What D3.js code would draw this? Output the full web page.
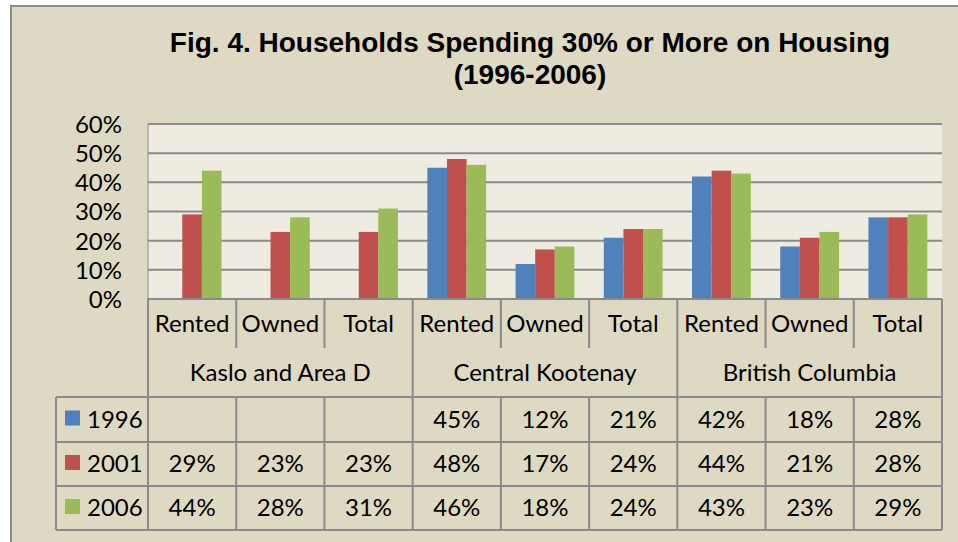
<!DOCTYPE html>
<html>
<head>
<meta charset="utf-8">
<script src="https://cdn.jsdelivr.net/npm/d3@7"></script>
<style>
  body { margin: 0; background: #fff; }
  text { font-family: Lato, "Open Sans", sans-serif; fill: #000; }
</style>
</head>
<body>
<svg width="958" height="542"></svg>
<script>
var regions = ["Kaslo and Area D", "Central Kootenay", "British Columbia"];
var tenures = ["Rented", "Owned", "Total"];
var years = ["1996", "2001", "2006"];
var yTicks = [0, 0.1, 0.2, 0.3, 0.4, 0.5, 0.6];

// one value per column: Kaslo R/O/T, Central Kootenay R/O/T, BC R/O/T
var v1996 = [null, null, null, 0.45, 0.12, 0.21, 0.42, 0.18, 0.28];
var v2001 = [0.29, 0.23, 0.23, 0.48, 0.17, 0.24, 0.44, 0.21, 0.28];
var v2006 = [0.44, 0.28, 0.31, 0.46, 0.18, 0.24, 0.43, 0.23, 0.29];

var colors = ["#4F81BD", "#C0504D", "#9BBB59"];
var lineColor = "#8a8a8a";

var series = [v1996, v2001, v2006].map(function(vals, i) {
  return {year: years[i], color: colors[i], values: vals};
});

var columns = [];
regions.forEach(function(r) {
  tenures.forEach(function(t) { columns.push(r + "|" + t); });
});

var svg = d3.select("svg");

// background and outer border (only top/left visible in the crop)
svg.append("rect").attr("x", 11).attr("y", 6).attr("width", 960).attr("height", 560)
    .attr("fill", "#DDD9C3").attr("stroke", "#8c8c8c").attr("stroke-width", 2);

// title
var title = svg.append("text")
    .attr("text-anchor", "middle")
    .style("font-family", "'Liberation Sans', Arial, sans-serif")
    .style("font-weight", "bold")
    .style("font-size", "28px");
title.append("tspan").attr("x", 530).attr("y", 52).text("Fig. 4. Households Spending 30% or More on Housing");
title.append("tspan").attr("x", 530).attr("y", 84).text("(1996-2006)");

var plotL = 148, plotR = 942, plotT = 124, plotB = 299;

var x0 = d3.scaleBand().domain(columns).range([plotL, plotR]);
var x1 = d3.scaleBand().domain(years).range([0, x0.bandwidth()]).paddingOuter(0.75);
var y = d3.scaleLinear().domain([0, 0.6]).range([plotB, plotT]);

// plot area
svg.append("rect").attr("x", plotL).attr("y", plotT).attr("width", plotR - plotL).attr("height", plotB - plotT)
    .attr("fill", "#EEECE1");

svg.append("g").selectAll("line").data(yTicks).join("line")
    .attr("x1", plotL).attr("x2", plotR)
    .attr("y1", function(d) { return y(d); }).attr("y2", function(d) { return y(d); })
    .attr("stroke", lineColor).attr("stroke-width", 2);

svg.append("line").attr("x1", plotL).attr("x2", plotL).attr("y1", plotT).attr("y2", plotB)
    .attr("stroke", lineColor).attr("stroke-width", 1);

// y axis labels
var yAxis = svg.append("g")
    .attr("transform", "translate(" + plotL + ",0)")
    .call(d3.axisLeft(y).tickValues(yTicks).tickFormat(d3.format(".0%")).tickSize(0).tickPadding(26));
yAxis.select(".domain").remove();
yAxis.selectAll("text").style("font-family", "Lato, sans-serif").style("font-size", "24px")
    .attr("dy", "0.35em").attr("fill", "#000");

// bars
series.forEach(function(s) {
  svg.append("g").selectAll("rect")
    .data(s.values.map(function(v, i) { return {col: columns[i], v: v}; }).filter(function(d) { return d.v != null; }))
    .join("rect")
      .attr("x", function(d) { return x0(d.col) + x1(s.year); })
      .attr("width", x1.bandwidth())
      .attr("y", function(d) { return y(d.v); })
      .attr("height", function(d) { return y(0) - y(d.v); })
      .attr("fill", s.color);
});

// category table
var row1 = 348, row2 = 397;
var rowH = [397, 442, 486, 530];
var tableLeft = 56;
var fontSize = "24px";

var cat = svg.append("g");
columns.forEach(function(c, i) {
  var xl = x0(c);
  var isGroupEdge = i % 3 === 0;
  cat.append("line").attr("x1", xl).attr("x2", xl).attr("y1", plotB).attr("y2", isGroupEdge ? row2 : row1)
      .attr("stroke", lineColor).attr("stroke-width", 2);
  cat.append("text").attr("x", xl + x0.bandwidth() / 2).attr("y", (plotB + row1) / 2 + 8)
      .attr("text-anchor", "middle").style("font-size", fontSize).text(c.split("|")[1]);
});
cat.append("line").attr("x1", plotR).attr("x2", plotR).attr("y1", plotB).attr("y2", row2)
    .attr("stroke", lineColor).attr("stroke-width", 2);
regions.forEach(function(r, i) {
  var xl = x0(columns[i * 3]);
  cat.append("text").attr("x", xl + x0.bandwidth() * 1.5).attr("y", (row1 + row2) / 2 + 8)
      .attr("text-anchor", "middle").style("font-size", fontSize).text(r);
});
svg.append("line").attr("x1", plotL).attr("x2", plotR).attr("y1", plotB).attr("y2", plotB)
    .attr("stroke", lineColor).attr("stroke-width", 2);

// data table
var dt = svg.append("g");
rowH.forEach(function(yy) {
  dt.append("line").attr("x1", tableLeft).attr("x2", plotR).attr("y1", yy).attr("y2", yy)
      .attr("stroke", lineColor).attr("stroke-width", 2);
});
[tableLeft].concat(columns.map(function(c) { return x0(c); }), [plotR]).forEach(function(xx) {
  dt.append("line").attr("x1", xx).attr("x2", xx).attr("y1", rowH[0]).attr("y2", rowH[3])
      .attr("stroke", lineColor).attr("stroke-width", 2);
});
series.forEach(function(s, r) {
  var cy = (rowH[r] + rowH[r + 1]) / 2;
  dt.append("rect").attr("x", 65).attr("y", cy - 9).attr("width", 15).attr("height", 15).attr("fill", s.color);
  dt.append("text").attr("x", 87).attr("y", cy + 8).style("font-size", fontSize).text(s.year);
  s.values.forEach(function(v, i) {
    if (v == null) return;
    dt.append("text").attr("x", x0(columns[i]) + x0.bandwidth() / 2).attr("y", cy + 8)
        .attr("text-anchor", "middle").style("font-size", fontSize).text(d3.format(".0%")(v));
  });
});
</script>
</body>
</html>
